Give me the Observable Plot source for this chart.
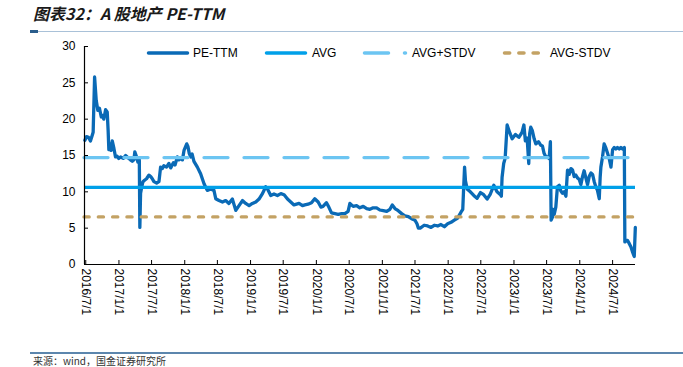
<!DOCTYPE html>
<html>
<head>
<meta charset="utf-8">
<script src="https://cdn.jsdelivr.net/npm/d3@7"></script>
<script src="https://cdn.jsdelivr.net/npm/@observablehq/plot@0.6"></script>
<style>
  html, body { margin: 0; padding: 0; background: #fff; }
  body { width: 683px; height: 367px; position: relative; overflow: hidden; font-family: "Liberation Sans", Arial, sans-serif; }
  #title { position: absolute; left: 33px; top: 3px; font-family: "Noto Sans CJK SC", sans-serif; font-weight: bold; font-style: italic; font-size: 16px; line-height: 20px; color: #1a1a1a; white-space: nowrap; }
  #topline { position: absolute; left: 30px; top: 31px; width: 653px; height: 1px; background: #a9c1d8; }
  #topmark { position: absolute; left: 30px; top: 30px; width: 8px; height: 3px; background: #2a5d8c; }
  #chart { position: absolute; left: 0; top: 34px; }
  #bottomline { position: absolute; left: 30px; top: 352px; width: 653px; height: 2px; background: #5c86ad; }
  #source { position: absolute; left: 33px; top: 355px; font-family: "Noto Sans CJK SC", sans-serif; font-size: 10px; line-height: 11px; color: #333; white-space: nowrap; }
  .lg { position: absolute; top: 46px; height: 14px; }
  .lgt { position: absolute; top: 46px; font-size: 12px; line-height: 14px; color: #000; white-space: nowrap; }
</style>
</head>
<body>
<div id="title">图表32：A 股地产 PE-TTM</div>
<div id="topline"></div>
<div id="topmark"></div>
<div id="chart"></div>
<div id="legend"></div>
<div id="bottomline"></div>
<div id="source">来源：wind，国金证券研究所</div>
<script>
// ---- data ----
const seriesNames = ["PE-TTM", "AVG", "AVG+STDV", "AVG-STDV"];
const seriesColors = ["#0a6ab6", "#00a0e9", "#6cc5f2", "#c3a264"];

const peDates = [
"2016-06-26","2016-07-05","2016-07-16","2016-07-27","2016-08-06","2016-08-11","2016-08-19","2016-08-28","2016-09-06","2016-09-15",
"2016-09-25","2016-10-02","2016-10-09","2016-10-19","2016-10-28","2016-11-02","2016-11-06","2016-11-13","2016-11-18","2016-11-25",
"2016-12-04","2016-12-13","2016-12-22","2016-12-31","2017-01-10","2017-01-25","2017-02-07","2017-02-16","2017-02-25","2017-03-06",
"2017-03-16","2017-03-25","2017-03-30","2017-04-09","2017-04-16","2017-04-24","2017-04-27","2017-05-01","2017-05-07","2017-05-14",
"2017-05-23","2017-06-03","2017-06-16","2017-06-26","2017-07-05","2017-07-14","2017-07-29","2017-08-11","2017-08-20","2017-08-30",
"2017-09-07","2017-09-22","2017-10-05","2017-10-15","2017-10-30","2017-11-08","2017-11-21","2017-11-30","2017-12-09","2017-12-19",
"2017-12-28","2018-01-12","2018-01-19","2018-01-26","2018-02-03","2018-02-11","2018-02-21","2018-03-12","2018-03-30","2018-04-18",
"2018-05-06","2018-05-25","2018-06-12","2018-06-22","2018-07-10","2018-07-29","2018-08-16","2018-09-03","2018-09-22","2018-10-11",
"2018-10-29","2018-11-17","2018-12-05","2018-12-24","2019-01-11","2019-01-30","2019-02-17","2019-03-08","2019-03-26","2019-04-05",
"2019-04-23","2019-05-11","2019-05-30","2019-06-18","2019-07-06","2019-07-25","2019-08-12","2019-08-30","2019-09-27","2019-10-16",
"2019-10-29","2019-11-16","2019-12-05","2019-12-23","2020-01-11","2020-01-26","2020-02-07","2020-02-26","2020-03-10","2020-03-25",
"2020-04-13","2020-05-01","2020-05-20","2020-06-07","2020-06-25","2020-07-05","2020-07-23","2020-08-11","2020-08-29","2020-09-17",
"2020-10-06","2020-10-24","2020-11-11","2020-11-30","2020-12-18","2021-01-06","2021-01-25","2021-02-12","2021-02-25","2021-03-12",
"2021-03-30","2021-04-18","2021-05-06","2021-05-25","2021-06-12","2021-07-01","2021-07-12","2021-07-20","2021-07-30","2021-08-21",
"2021-09-09","2021-09-28","2021-10-16","2021-11-04","2021-11-22","2021-12-11","2021-12-29","2022-01-17","2022-02-04","2022-02-23",
"2022-03-04","2022-03-13","2022-03-23","2022-03-27","2022-04-02","2022-04-07","2022-04-16","2022-05-04","2022-05-23","2022-06-10",
"2022-06-29","2022-07-17","2022-08-05","2022-08-23","2022-09-11","2022-09-29","2022-10-18","2022-10-23","2022-10-27","2022-11-05",
"2022-11-13","2022-11-24","2022-12-09","2022-12-22","2023-01-09","2023-01-28","2023-02-15","2023-02-25","2023-03-05","2023-03-15",
"2023-03-24","2023-03-29","2023-04-04","2023-04-13","2023-04-23","2023-05-02","2023-05-17","2023-05-30","2023-06-08","2023-06-17",
"2023-06-27","2023-07-06","2023-07-15","2023-07-22","2023-07-26","2023-08-02","2023-08-06","2023-08-12","2023-08-21","2023-08-30",
"2023-09-09","2023-09-18","2023-09-27","2023-10-06","2023-10-16","2023-10-25","2023-11-03","2023-11-13","2023-11-22","2023-12-01",
"2023-12-10","2023-12-20","2023-12-29","2024-01-07","2024-01-16","2024-01-25","2024-02-04","2024-02-13","2024-02-22","2024-03-03",
"2024-03-12","2024-03-21","2024-03-30","2024-04-08","2024-04-18","2024-04-23","2024-04-27","2024-05-06","2024-05-15","2024-05-25",
"2024-06-03","2024-06-12","2024-06-22","2024-07-01","2024-07-10","2024-07-19","2024-07-28","2024-08-07","2024-08-16","2024-08-25",
"2024-09-04","2024-09-07","2024-09-15","2024-09-22","2024-10-01","2024-10-11","2024-10-20","2024-10-29","2024-11-04"
];
const peValues = [
17.1,17.6,17.5,17.0,17.8,18.2,25.8,22.6,21.2,21.5,
20.3,20.5,20.0,21.3,21.0,18.5,15.8,16.6,15.7,17.0,
16.0,14.8,14.9,14.6,14.8,14.6,15.0,14.8,14.6,14.4,
14.2,14.4,15.5,14.8,14.1,14.4,5.1,9.8,10.6,11.4,
11.6,11.8,12.3,12.1,11.8,11.4,11.2,11.4,13.4,13.2,
13.6,13.4,13.9,13.3,14.0,13.7,14.8,14.4,14.6,14.4,
15.7,16.6,16.2,15.3,14.8,15.2,14.2,13.4,12.5,11.1,
10.2,10.4,10.2,9.05,8.8,8.6,8.8,8.4,9.0,7.45,
8.1,8.8,8.4,8.1,8.4,8.6,9.0,9.75,10.7,10.4,
9.5,9.7,9.5,9.75,9.6,9.0,8.6,8.2,8.4,8.1,
8.2,8.3,8.5,9.05,8.6,7.9,8.0,8.5,7.9,7.1,
7.0,6.9,7.0,7.0,7.3,8.4,8.0,8.1,7.8,8.0,
7.7,7.6,7.8,7.8,7.5,7.4,7.3,7.6,8.2,7.7,
7.4,7.0,6.7,6.6,6.3,6.1,5.6,5.0,5.0,5.4,
5.3,5.1,5.4,5.3,5.5,5.2,5.6,5.8,6.1,6.4,
6.8,7.2,7.6,10.0,13.4,11.5,10.4,10.0,9.5,9.1,
9.9,9.6,9.0,9.7,10.9,10.0,9.6,9.4,12.0,13.9,
14.6,19.2,18.1,17.3,17.9,17.5,18.2,19.2,17.0,17.4,
13.9,18.0,18.9,18.4,17.3,16.6,16.9,16.4,16.3,15.3,
14.8,14.8,14.6,16.9,6.1,6.5,7.6,6.9,7.9,10.7,
10.9,10.1,9.8,10.0,9.4,13.0,12.4,13.2,13.0,12.1,
12.3,11.9,11.7,11.0,12.1,12.9,11.9,11.0,12.1,12.6,
12.4,11.4,10.7,10.2,9.05,12.0,13.4,14.8,16.6,16.0,
15.3,14.6,13.4,15.8,16.1,15.9,16.1,15.9,16.1,15.9,
16.1,3.1,3.3,3.3,2.9,2.4,1.7,1.1,5.1
];
const avgValue = 10.6;
const upperValue = 14.72;
const lowerValue = 6.55;

const yTicks = [0, 5, 10, 15, 20, 25, 30];
const xTickLabels = ["2016/7/1","2017/1/1","2017/7/1","2018/1/1","2018/7/1","2019/1/1","2019/7/1","2020/1/1","2020/7/1",
  "2021/1/1","2021/7/1","2022/1/1","2022/7/1","2023/1/1","2023/7/1","2024/1/1","2024/7/1"];
const xDomainLabels = ["2016/6/24", "2024/11/5"];

// ---- build ----
const parse = s => { const [y, m, d] = s.split(/[-\/]/).map(Number); return new Date(Date.UTC(y, m - 1, d)); };
const fmt = d => `${d.getUTCFullYear()}/${d.getUTCMonth() + 1}/${d.getUTCDate()}`;
const data = peDates.map((d, i) => ({date: parse(d), pe: peValues[i]}));
const xTicks = xTickLabels.map(parse);
const xDomain = xDomainLabels.map(parse);

const chart = Plot.plot({
  width: 683,
  height: 318,
  marginLeft: 84,
  marginRight: 48,
  marginTop: 12,
  marginBottom: 88,
  style: {fontFamily: "'Liberation Sans', Arial, sans-serif", fontSize: "12px", color: "#000", background: "transparent"},
  x: {type: "utc", domain: xDomain},
  y: {domain: [0, 30]},
  marks: [
    Plot.lineY(data, {x: "date", y: "pe", stroke: seriesColors[0], strokeWidth: 3.3, strokeLinejoin: "round", strokeLinecap: "round"}),
    Plot.ruleY([avgValue], {stroke: seriesColors[1], strokeWidth: 3.3}),
    Plot.ruleY([upperValue], {stroke: seriesColors[2], strokeWidth: 3.3, strokeDasharray: "24,16", strokeLinecap: "round"}),
    Plot.ruleY([lowerValue], {stroke: seriesColors[3], strokeWidth: 3.3, strokeDasharray: "5.2,9.1", strokeLinecap: "round"}),
    Plot.ruleX([xDomain[0]], {stroke: "#000", strokeWidth: 1.2}),
    Plot.ruleY([0], {stroke: "#000", strokeWidth: 1.2}),
    Plot.axisX({ticks: xTicks, tickFormat: fmt, tickRotate: 90, tickSize: -4, tickPadding: 8, label: null, fontSize: 12}),
    Plot.axisY({ticks: yTicks, tickSize: -4, tickPadding: 13, label: null, fontSize: 12})
  ]
});
document.getElementById("chart").appendChild(chart);

// ---- legend (HTML, above the plot area) ----
const legendItems = [
  {left: 145, textLeft: 193, dash: null},
  {left: 263, textLeft: 312, dash: null},
  {left: 361, textLeft: 412, dash: "24,16"},
  {left: 501, textLeft: 550, dash: "5.2,9.1"}
];
const lg = document.getElementById("legend");
legendItems.forEach((it, i) => {
  const s = document.createElementNS("http://www.w3.org/2000/svg", "svg");
  s.setAttribute("class", "lg");
  s.setAttribute("width", 48);
  s.setAttribute("height", 14);
  s.style.left = it.left + "px";
  const l = document.createElementNS("http://www.w3.org/2000/svg", "line");
  l.setAttribute("x1", 3.5); l.setAttribute("x2", i === 2 ? 44.5 : 42.5);
  l.setAttribute("y1", 7); l.setAttribute("y2", 7);
  l.setAttribute("stroke", seriesColors[i]);
  l.setAttribute("stroke-width", 3.5);
  l.setAttribute("stroke-linecap", "round");
  if (it.dash) l.setAttribute("stroke-dasharray", it.dash);
  s.appendChild(l);
  lg.appendChild(s);
  const t = document.createElement("div");
  t.className = "lgt";
  t.style.left = it.textLeft + "px";
  t.textContent = seriesNames[i];
  lg.appendChild(t);
});
</script>
</body>
</html>
